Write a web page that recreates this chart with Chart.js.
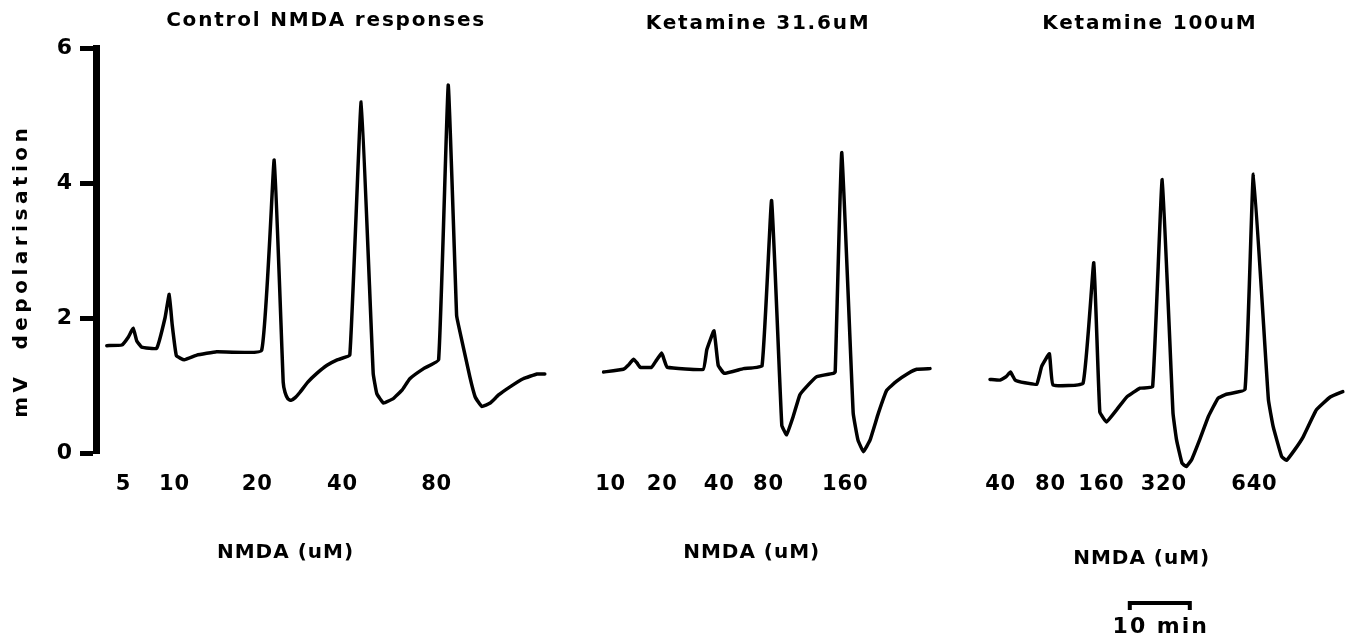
<!DOCTYPE html>
<html>
<head>
<meta charset="utf-8">
<script src="https://cdn.jsdelivr.net/npm/chart.js@4.4.1/dist/chart.umd.min.js"></script>
<style>
    body { margin: 0; background: #fff; }
    canvas { display: block; }
</style>
</head>
<body>
<canvas id="nmdaChart" width="1348" height="640"></canvas>
<script>
// time in minutes, depolarisation in mV
const controlTime = [1.8, 4.3, 5.4, 6.2, 6.8, 7.6, 10.1, 11.5, 12.2, 12.7, 13.4, 14.7, 16.8, 20.1, 27.6, 29.7, 31.2, 31.5, 32.0, 32.5, 33.2, 34.0, 35.3, 36.8, 38.5, 40.2, 42.3, 44.2, 46.2, 46.8, 47.9, 49.6, 51.0, 52.3, 54.6, 57.1, 58.7, 60.1, 60.4, 62.3, 63.2, 64.3, 65.7, 67.1, 69.0, 71.2, 73.5, 74.8];
const controlMv = [1.59, 1.60, 1.72, 1.85, 1.66, 1.57, 1.55, 2.0, 2.35, 1.9, 1.44, 1.38, 1.45, 1.50, 1.52, 4.34, 1.05, 0.9, 0.8, 0.78, 0.82, 0.9, 1.05, 1.18, 1.30, 1.38, 1.45, 5.20, 1.18, 0.88, 0.74, 0.81, 0.93, 1.10, 1.25, 1.38, 5.45, 2.04, 1.90, 1.13, 0.83, 0.69, 0.74, 0.86, 0.98, 1.10, 1.17, 1.17];

const ket316Time = [84.6, 87.9, 88.7, 89.6, 90.2, 90.7, 92.6, 93.3, 94.3, 94.7, 95.2, 101.2, 101.8, 103.0, 103.7, 104.7, 107.9, 111.0, 112.6, 114.3, 115.1, 116.2, 117.3, 118.4, 120.1, 122.9, 123.2, 124.3, 126.2, 127.0, 127.9, 129.0, 130.4, 131.8, 133.4, 135.4, 136.8, 139.0];
const ket316Mv = [1.20, 1.24, 1.30, 1.39, 1.33, 1.27, 1.27, 1.36, 1.48, 1.38, 1.27, 1.24, 1.53, 1.81, 1.30, 1.18, 1.25, 1.29, 3.74, 0.41, 0.27, 0.54, 0.86, 0.98, 1.13, 1.18, 1.20, 4.45, 0.59, 0.19, 0.02, 0.19, 0.59, 0.93, 1.06, 1.18, 1.24, 1.25];

const ket100Time = [149.0, 150.7, 151.7, 152.4, 153.2, 154.8, 156.8, 157.6, 158.9, 159.5, 164.5, 166.3, 167.3, 168.4, 170.1, 171.8, 174.0, 176.1, 177.7, 179.5, 180.1, 181.0, 181.7, 182.6, 184.0, 185.4, 187.0, 188.4, 191.5, 192.9, 195.4, 196.2, 197.6, 198.4, 199.8, 201.2, 203.4, 205.7, 207.8];
const ket100Mv = [1.09, 1.08, 1.13, 1.20, 1.08, 1.04, 1.02, 1.28, 1.47, 1.01, 1.03, 2.82, 0.61, 0.46, 0.64, 0.83, 0.96, 0.98, 4.05, 0.59, 0.19, -0.15, -0.20, -0.10, 0.21, 0.54, 0.81, 0.87, 0.94, 4.13, 0.79, 0.39, -0.05, -0.11, 0.05, 0.24, 0.64, 0.83, 0.91];

const panelTitles = ['Control NMDA responses', 'Ketamine 31.6uM', 'Ketamine 100uM'];
const panelCentres = [38.2, 110.2, 175.5];
const axisCentres = [31.5, 109.2, 174.2];
const doseLabels = [
    ['5', '10', '20', '40', '80'],
    ['10', '20', '40', '80', '160'],
    ['40', '80', '160', '320', '640']
];
const doseTimes = [
    [4.5, 13.0, 26.8, 41.0, 56.7],
    [85.7, 94.3, 103.8, 112.0, 124.8],
    [150.7, 159.0, 167.5, 177.9, 193.0]
];
const scaleBar = [172.3, 182.3]; // 10 min

const FONT = "'DejaVu Sans', Verdana, sans-serif";

function toPoints(xs, ys) {
    return xs.map((x, i) => ({ x: x, y: ys[i] }));
}

function spacedText(c, text, x, y, font, spacing) {
    c.font = font;
    c.letterSpacing = spacing + 'px';
    c.fillText(text, x + spacing / 2, y);
}

const labelsPlugin = {
    id: 'traceLabels',
    afterDraw(chart) {
        const c = chart.ctx;
        const xs = chart.scales.x;
        c.save();
        c.fillStyle = '#000';
        c.textAlign = 'center';
        c.textBaseline = 'middle';

        const titleY = [21, 24, 24];
        panelTitles.forEach((t, i) => {
            spacedText(c, t, xs.getPixelForValue(panelCentres[i]), titleY[i], 'bold 20px ' + FONT, 1.8);
        });

        doseLabels.forEach((group, i) => {
            group.forEach((lbl, j) => {
                spacedText(c, lbl, xs.getPixelForValue(doseTimes[i][j]), 485, 'bold 21px ' + FONT, 0.8);
            });
        });

        const nmdaY = [553, 553, 559];
        axisCentres.forEach((x, i) => {
            spacedText(c, 'NMDA (uM)', xs.getPixelForValue(x), nmdaY[i], 'bold 20px ' + FONT, 1);
        });

        // y title
        c.save();
        c.translate(22, 273);
        c.rotate(-Math.PI / 2);
        spacedText(c, 'mV  depolarisation', 0, 0, 'bold 20px ' + FONT, 4.5);
        c.restore();

        // scale bar
        const x1 = xs.getPixelForValue(scaleBar[0]);
        const x2 = xs.getPixelForValue(scaleBar[1]);
        c.strokeStyle = '#000';
        c.lineWidth = 4;
        c.beginPath();
        c.moveTo(x1, 610);
        c.lineTo(x1, 603);
        c.lineTo(x2, 603);
        c.lineTo(x2, 610);
        c.stroke();
        spacedText(c, '10 min', (x1 + x2) / 2, 627, 'bold 22px ' + FONT, 2);
        c.restore();
    }
};

function traceDataset(xs, ys) {
    return {
        data: toPoints(xs, ys),
        borderColor: '#000',
        borderWidth: 3.5,
        pointRadius: 0,
        tension: 0.1,
        capBezierPoints: false,
        fill: false,
        clip: false,
        borderJoinStyle: 'round',
        borderCapStyle: 'round'
    };
}

new Chart(document.getElementById('nmdaChart').getContext('2d'), {
    type: 'line',
    data: {
        datasets: [
            traceDataset(controlTime, controlMv),
            traceDataset(ket316Time, ket316Mv),
            traceDataset(ket100Time, ket100Mv)
        ]
    },
    options: {
        responsive: false,
        animation: false,
        devicePixelRatio: 1,
        layout: { padding: { top: 48, bottom: 187, left: 0, right: 4 } },
        plugins: {
            legend: { display: false },
            tooltip: { enabled: false }
        },
        scales: {
            x: { type: 'linear', min: 0, max: 208, display: false },
            y: {
                min: 0,
                max: 6,
                afterFit: function (scale) { scale.width = 96; },
                ticks: {
                    stepSize: 2,
                    color: '#000',
                    padding: 8,
                    font: { family: FONT, size: 22, weight: 'bold' }
                },
                grid: {
                    drawOnChartArea: false,
                    drawTicks: true,
                    tickLength: 16,
                    tickWidth: 5,
                    tickColor: '#000'
                },
                border: { display: true, color: '#000', width: 7 }
            }
        }
    },
    plugins: [labelsPlugin]
});
</script>
</body>
</html>
